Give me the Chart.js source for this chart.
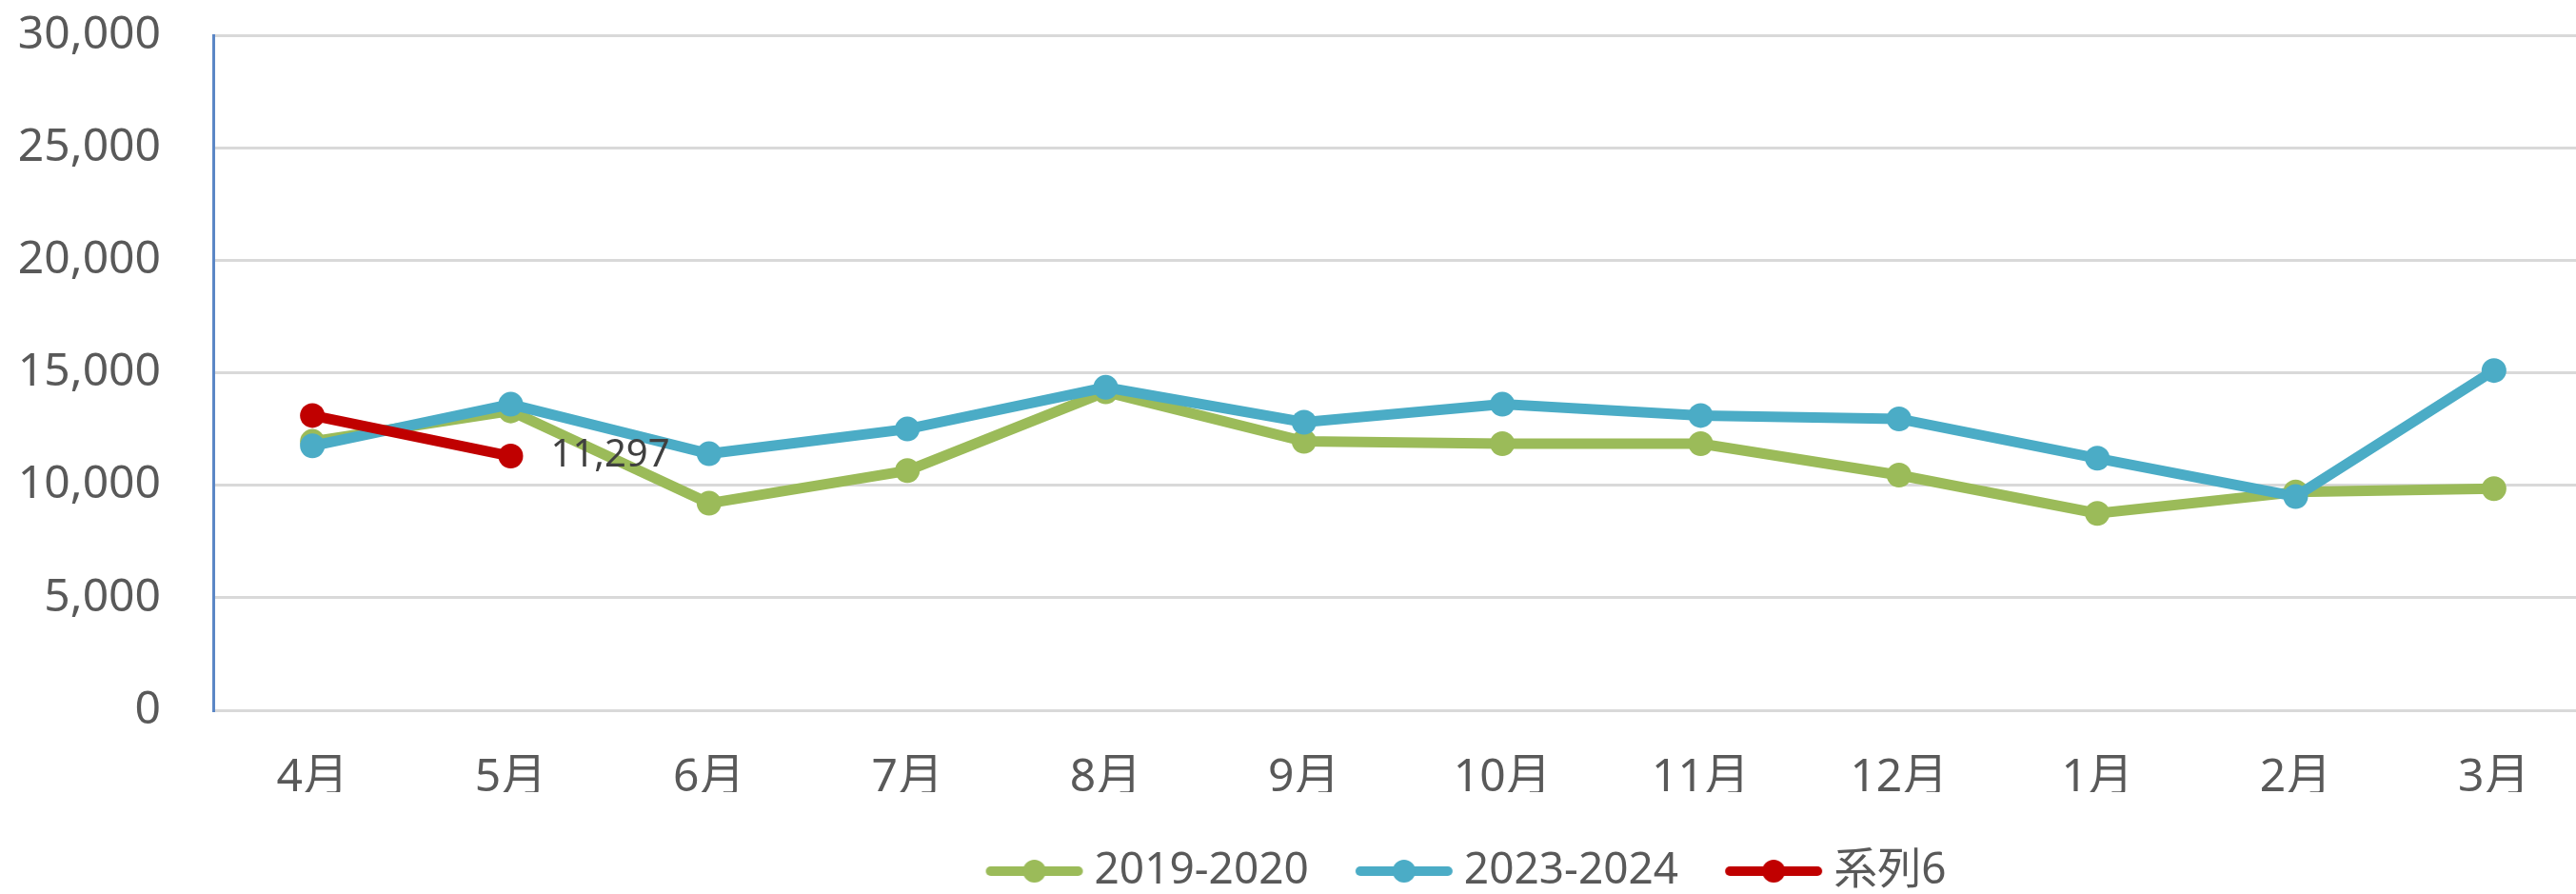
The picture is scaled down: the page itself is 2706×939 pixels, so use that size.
<!DOCTYPE html>
<html lang="ja">
<head>
<meta charset="utf-8">
<title>月別推移</title>
<script src="https://cdn.jsdelivr.net/npm/chart.js"></script>
<style>
  html, body { margin: 0; padding: 0; background: #fff; overflow: hidden; }
  #wrap { width: 3091px; height: 939px; }
</style>
</head>
<body>
<div id="wrap"><canvas id="monthChart" width="3091" height="939"></canvas></div>
<script>
// 月 (x軸)
const months = ['4月', '5月', '6月', '7月', '8月', '9月', '10月', '11月', '12月', '1月', '2月', '3月'];

// 各系列
const data2019 = [11950, 13300, 9200, 10650, 14150, 11950, 11850, 11850, 10450, 8750, 9700, 9850];
const data2023 = [11750, 13600, 11400, 12500, 14350, 12800, 13600, 13100, 12950, 11200, 9500, 15100];
const series6 = [13100, 11297];

const seriesNames = ['2019-2020', '2023-2024', '系列6'];
const seriesColors = ['#9BBB59', '#4BACC6', '#C00000'];

// y軸
const yMin = 0;
const yMax = 30000;
const yStep = 5000;

const FONT = "'Noto Sans', 'Noto Sans CJK JP', sans-serif";

document.addEventListener('DOMContentLoaded', function() {

  // 凡例のアイコン (線 + マーカー)
  function makeIcon(color) {
    const c = document.createElement('canvas');
    c.width = 104;
    c.height = 28;
    const g = c.getContext('2d');
    g.strokeStyle = color;
    g.lineWidth = 10;
    g.lineCap = 'round';
    g.beginPath();
    g.moveTo(6, 14);
    g.lineTo(98, 14);
    g.stroke();
    g.fillStyle = color;
    g.beginPath();
    g.arc(52, 14, 12, 0, Math.PI * 2);
    g.fill();
    return c;
  }
  const icons = seriesColors.map(makeIcon);

  // 最後の点だけ値ラベル
  const valueLabel = {
    id: 'valueLabel',
    afterDatasetsDraw(chart) {
      const meta = chart.getDatasetMeta(2);
      const last = series6.length - 1;
      const pt = meta.data[last];
      const c = chart.ctx;
      c.save();
      c.font = '40px ' + FONT;
      c.fillStyle = '#404040';
      c.textAlign = 'left';
      c.textBaseline = 'middle';
      c.fillText(series6[last].toLocaleString('en-US'), pt.x + 42, pt.y);
      c.restore();
    }
  };

  function lineSet(i, values, order) {
    return {
      label: seriesNames[i],
      data: values,
      order: order,
      borderColor: seriesColors[i],
      backgroundColor: seriesColors[i],
      borderWidth: 11,
      tension: 0,
      pointRadius: 13,
      pointHoverRadius: 13,
      pointBorderWidth: 0,
      pointBackgroundColor: seriesColors[i],
      fill: false
    };
  }

  const ctx = document.getElementById('monthChart');
  const monthChart = new Chart(ctx, {
    type: 'line',
    data: {
      labels: months,
      datasets: [
        lineSet(0, data2019, 2),
        lineSet(1, data2023, 1),
        lineSet(2, series6, 0)
      ]
    },
    plugins: [valueLabel],
    options: {
      responsive: false,
      animation: false,
      layout: {
        padding: { top: 37, left: 0, right: 0, bottom: -9 }
      },
      plugins: {
        tooltip: { enabled: false },
        title: { display: false },
        legend: {
          display: true,
          position: 'bottom',
          align: 'center',
          labels: {
            usePointStyle: true,
            pointStyleWidth: 80,
            padding: 60,
            color: '#595959',
            font: { family: FONT, size: 46 },
            generateLabels: (chart) => chart.data.datasets.map((ds, i) => ({
              text: ds.label,
              datasetIndex: i,
              pointStyle: icons[i],
              fillStyle: ds.borderColor,
              strokeStyle: ds.borderColor,
              lineWidth: 0,
              fontColor: '#595959',
              hidden: false
            }))
          }
        }
      },
      scales: {
        x: {
          offset: true,
          grid: { display: false, drawTicks: false },
          border: { display: true, color: '#D9D9D9', width: 3 },
          ticks: {
            color: '#595959',
            padding: 43,
            maxRotation: 0,
            autoSkip: false,
            font: { family: FONT, size: 48 }
          },
          afterFit: (s) => { s.height = 86; }
        },
        y: {
          position: 'left',
          min: yMin,
          max: yMax,
          grid: { color: '#D9D9D9', lineWidth: 3, drawTicks: false },
          border: { display: true, color: '#5B87C6', width: 3 },
          ticks: {
            stepSize: yStep,
            color: '#595959',
            padding: 55,
            font: { family: FONT, size: 48 },
            callback: (v) => v.toLocaleString('en-US')
          },
          afterFit: (s) => {
            s.width = 224;
            s.paddingTop = 0;
            s.paddingBottom = 0;
          }
        },
        // 右側の余白 (元の図は右端で切れている)
        yRight: {
          position: 'right',
          grid: { display: false },
          border: { display: false },
          ticks: { display: false },
          afterFit: (s) => { s.width = 367; }
        }
      }
    }
  });
});
</script>
</body>
</html>
